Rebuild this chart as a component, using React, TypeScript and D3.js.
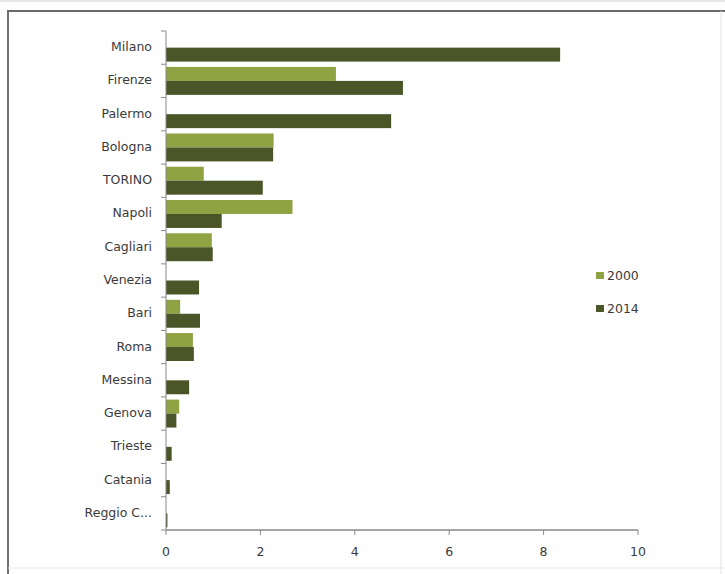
import React from "react";
import * as d3 from "d3";

const categories = ["Milano", "Firenze", "Palermo", "Bologna", "TORINO", "Napoli", "Cagliari", "Venezia", "Bari", "Roma", "Messina", "Genova", "Trieste", "Catania", "Reggio C..."];
const series2000 = [0, 3.6, 0, 2.28, 0.8, 2.68, 0.97, 0, 0.3, 0.57, 0, 0.28, 0, 0, 0];
const series2014 = [8.35, 5.02, 4.77, 2.27, 2.05, 1.18, 0.99, 0.7, 0.72, 0.59, 0.49, 0.22, 0.12, 0.08, 0.03];
const seriesNames = ["2000", "2014"];
const xTicks = [0, 2, 4, 6, 8, 10];
const colors = ["#8fa343", "#4a5628"];

export default function App() {
  const W = 725, H = 574;
  const x = d3.scaleLinear().domain([0, 10]).range([166, 638]);
  const y = d3.scaleBand().domain(categories).range([31, 530]).paddingInner(0.16).paddingOuter(0.08);
  const inner = d3.scaleBand().domain(seriesNames).range([0, y.bandwidth()]);
  const data = [series2000, series2014];
  const font = "'DejaVu Sans', sans-serif";
  const step = (530 - 31) / categories.length;
  return (
    <svg width={W} height={H} style={{ position: "absolute", left: 0, top: 0, background: "#fff" }}>
      <rect x={0} y={0} width={W} height={H} fill="#fff" />
      <line x1={0} y1={1} x2={W} y2={1} stroke="#e6e6e6" strokeWidth={2} />
      <line x1={7} y1={11} x2={W} y2={11} stroke="#6e6a6c" strokeWidth={2} />
      <line x1={8} y1={11} x2={8} y2={H} stroke="#707070" strokeWidth={2} />
      <line x1={721} y1={11} x2={721} y2={H} stroke="#e4e4e4" strokeWidth={1} />
      <line x1={8} y1={568} x2={W} y2={568} stroke="#e8e8e8" strokeWidth={1} />
      {categories.map((c, i) => (
        <g key={c}>
          {data.map((s, k) =>
            s[i] > 0 ? (
              <rect key={k} x={x(0)} y={(y(c) as number) + (inner(seriesNames[k]) as number)} width={x(s[i]) - x(0)} height={inner.bandwidth()} fill={colors[k]} />
            ) : null
          )}
          <text x={152} y={(y(c) as number) + y.bandwidth() / 2} textAnchor="end" dominantBaseline="middle" fontFamily={font} fontSize={12.5} fill="#3a3a3a">{c}</text>
        </g>
      ))}
      {d3.range(categories.length + 1).map((i) => (
        <line key={i} x1={161} x2={166} y1={31 + i * step} y2={31 + i * step} stroke="#888" />
      ))}
      <line x1={166} x2={166} y1={31} y2={530} stroke="#888" />
      <line x1={166} x2={638} y1={530} y2={530} stroke="#888" strokeWidth={1.5} />
      {xTicks.map((t) => (
        <g key={t}>
          <line x1={x(t)} x2={x(t)} y1={530} y2={535} stroke="#888" />
          <text x={x(t)} y={552} textAnchor="middle" dominantBaseline="middle" fontFamily={font} fontSize={12.5} fill="#3a3a3a">{t}</text>
        </g>
      ))}
      {seriesNames.map((n, k) => (
        <g key={n} transform={`translate(596, ${272 + k * 33})`}>
          <rect x={0} y={0} width={8} height={7} fill={colors[k]} />
          <text x={11} y={4} dominantBaseline="middle" fontFamily={font} fontSize={12.5} fill="#3a3a3a">{n}</text>
        </g>
      ))}
    </svg>
  );
}
